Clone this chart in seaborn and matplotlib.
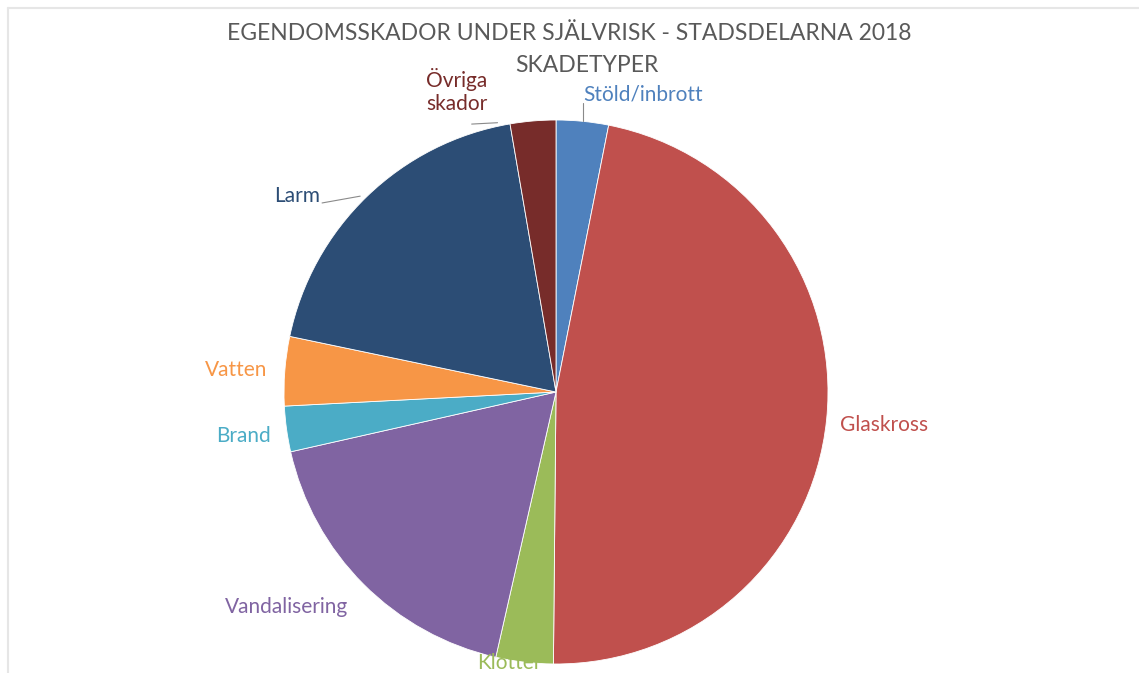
import matplotlib
matplotlib.use("Agg")
import matplotlib.pyplot as plt
import seaborn as sns

# skadetyper, medurs fran klockan 12
categories = ["Stöld/inbrott", "Glaskross", "Klotter", "Vandalisering",
              "Brand", "Vatten", "Larm", "Övriga\nskador"]
values = [3.1, 47.0, 3.4, 17.9, 2.7, 4.1, 19.0, 2.7]
colors = ["#4F81BD", "#C0504D", "#9BBB59", "#8064A2",
          "#4BACC6", "#F79646", "#2C4D75", "#772C2A"]
label_colors = ["#4F81BD", "#C0504D", "#9BBB59", "#8064A2",
                "#4BACC6", "#F79646", "#2C4D75", "#772C2A"]

title1 = "EGENDOMSSKADOR UNDER SJÄLVRISK - STADSDELARNA 2018"
title2 = "SKADETYPER"

sns.set_theme(style="white")
plt.rcParams['font.family'] = ['Lato', 'DejaVu Sans']

W, H = 1139, 673
fig = plt.figure(figsize=(W / 100, H / 100), dpi=100)

# pie placement in pixels
cx, cy, r = 556, 392, 272
ax = fig.add_axes([(cx - r) / W, (H - cy - r) / H, 2 * r / W, 2 * r / H])
wedges, _ = ax.pie(values, colors=colors, startangle=90, counterclock=False,
                   radius=1.0, wedgeprops=dict(linewidth=0.6, edgecolor="white"))
ax.set_xlim(-1, 1)
ax.set_ylim(-1, 1)
ax.set_aspect("equal")
ax.axis("off")

# label layout (data coords of the pie axes)
label_pos = [(0.10, 1.092), (1.044, -0.12), (-0.17, -0.996), (-0.99, -0.79),
             (-1.15, -0.16), (-1.176, 0.081), (-0.95, 0.72), (-0.364, 1.107)]
label_ha = ["left", "left", "center", "center", "center", "center", "center", "center"]
for lab, c, (x, y), ha in zip(categories, label_colors, label_pos, label_ha):
    ax.text(x, y, lab, color=c, fontsize=15, ha=ha, va="center",
            linespacing=1.2, clip_on=False, zorder=10)

# leader lines
ax.plot([0.10, 0.10], [0.995, 1.062], color="#8a8a8a", lw=0.8, clip_on=False)
ax.plot([-0.31, -0.215], [0.985, 0.99], color="#8a8a8a", lw=0.8, clip_on=False)
ax.plot([-0.86, -0.72], [0.695, 0.72], color="#8a8a8a", lw=0.8, clip_on=False)

fig.text(0.5, 1 - 33 / H, title1, ha="center", va="center",
         fontsize=16.5, color="#595959")
fig.text(0.5 + 17 / W, 1 - 66 / H, title2, ha="center", va="center",
         fontsize=16.5, color="#595959")

# faint page border
fig.add_artist(plt.Line2D([8 / W, 1], [1 - 8 / H, 1 - 8 / H], color="#e6e6e6", lw=1.5))
fig.add_artist(plt.Line2D([8 / W, 8 / W], [0, 1 - 8 / H], color="#e6e6e6", lw=1.5))

fig.savefig("out.png", dpi=100)
